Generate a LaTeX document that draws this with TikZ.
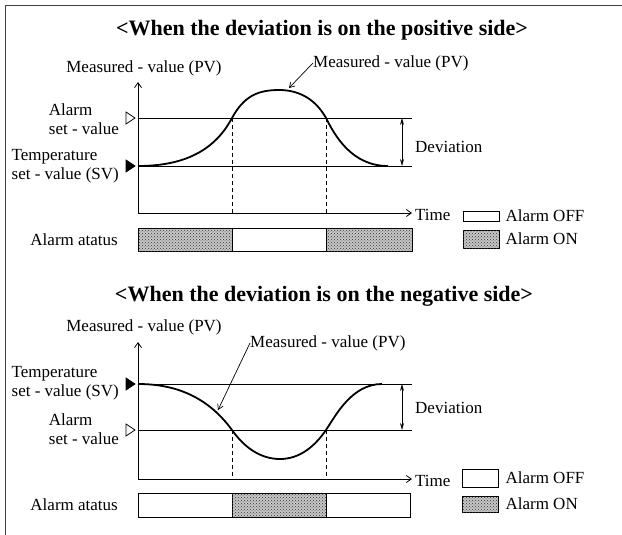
\documentclass[tikz,border=0pt]{standalone}
\usepackage{fontspec}
\setmainfont{Liberation Serif}
\usetikzlibrary{positioning,arrows.meta,patterns}

\begin{document}
\begin{tikzpicture}[x=1pt, y=-1pt,
  every node/.style={font=\fontsize{17}{19}\selectfont, inner sep=0pt},
  ttl/.style={font=\fontsize{22}{24}\selectfont\bfseries},
  lbl/.style={align=left, anchor=east},
  level/.style={line width=0.7pt},
  pvline/.style={line width=1.8pt},
  guide/.style={line width=0.6pt, dash pattern=on 4pt off 3pt},
  axis/.style={line width=0.8pt, -{Straight Barb[length=5pt,width=7pt]}},
  leader/.style={line width=0.7pt, -{Straight Barb[length=5pt,width=6pt]}},
  dev/.style={line width=0.8pt, {Stealth[length=7pt,width=4pt]}-{Stealth[length=7pt,width=4pt]}},
  onbox/.style={draw, line width=0.7pt, fill=black!22, postaction={pattern=crosshatch dots, pattern color=black!80}},
  offbox/.style={draw, line width=0.7pt, fill=white},
  openmark/.style={line width=0.7pt, fill=white},
  fullmark/.style={line width=0.7pt, fill=black}]
  \useasboundingbox (0,0) rectangle (622,535);
  % frame
  \coordinate (fr1) at (5,535); \coordinate (fr2) at (5,5); \coordinate (fr3) at (622,5);
  \draw[line width=0.8pt, black!75] (fr1) -- (fr2) -- (fr3);

  % ---- positive side ----
  \node[ttl] (t1) at (322,30) {<When the deviation is on the positive side>};
  \coordinate (o1) at (138,213); \coordinate (ytop1) at (138,82); \coordinate (xend1) at (412,213);
  \coordinate (al1a) at (138,118); \coordinate (al1b) at (412,118);
  \coordinate (sv1a) at (138,166); \coordinate (sv1b) at (412,166);
  \coordinate (cr1a) at (232,118); \coordinate (cr1b) at (326,118);
  \coordinate (pk1) at (279,90); \coordinate (end1) at (388,166);
  \coordinate (tip1) at (289,88);
  \coordinate (dv1a) at (402,118); \coordinate (dv1b) at (402,166);
  \draw[axis] (o1) -- (ytop1);
  \draw[axis] (o1) -- (xend1);
  \draw[level] (al1a) -- (al1b);
  \draw[level] (sv1a) -- (sv1b);
  \draw[guide] (cr1a) -- (cr1a |- o1);
  \draw[guide] (cr1b) -- (cr1b |- o1);
  \draw[pvline] (sv1a) .. controls (185,166) and (215,150) .. (cr1a)
    .. controls (244,96) and (258,90) .. (pk1)
    .. controls (300,90) and (316,100) .. (cr1b)
    .. controls (335,136) and (352,166) .. (end1);
  \draw[dev] (dv1a) -- (dv1b);
  \draw[openmark] (126,112) -- (135,118) -- (126,124) -- cycle;
  \draw[fullmark] (126,160) -- (135,166) -- (126,172) -- cycle;
  \node (pvax1) at (144,68) {Measured - value (PV)};
  \node[anchor=west] (pvtop) at (313,63) {Measured - value (PV)};
  \draw[leader] (pvtop.west) -- (tip1);
  \node[lbl] (alarm1) at (119,119) {Alarm\\set - value};
  \node[lbl] (temp1) at (119,166) {Temperature\\set - value (SV)};
  \node[anchor=west] (dv1) at (415,147) {Deviation};
  \node[anchor=west] (time1) at (415,215) {Time};
  \node[offbox, minimum width=36pt, minimum height=10pt] (off1) at (481,216) {};
  \node[onbox, minimum width=36pt, minimum height=18pt] (on1) at (481,239) {};
  \node[right=6pt of off1] (offtxt1) {Alarm OFF};
  \node[right=6pt of on1] (ontxt1) {Alarm ON};
  \node[anchor=east] (st1) at (118,240) {Alarm atatus};
  \draw[onbox] (138,228) rectangle (232,251);
  \draw[offbox] (232,228) rectangle (326,251);
  \draw[onbox] (326,228) rectangle (412,251);

  % ---- negative side ----
  \node[ttl] (t2) at (324,296) {<When the deviation is on the negative side>};
  \coordinate (o2) at (138,479); \coordinate (ytop2) at (138,342); \coordinate (xend2) at (412,479);
  \coordinate (sv2a) at (138,384); \coordinate (sv2b) at (412,384);
  \coordinate (al2a) at (138,430); \coordinate (al2b) at (412,430);
  \coordinate (cr2a) at (232,430); \coordinate (cr2b) at (326,430);
  \coordinate (lo2) at (280,459); \coordinate (end2) at (382,384);
  \coordinate (tip2) at (218,410);
  \coordinate (dv2a) at (402,384); \coordinate (dv2b) at (402,430);
  \draw[axis] (o2) -- (ytop2);
  \draw[axis] (o2) -- (xend2);
  \draw[level] (sv2a) -- (sv2b);
  \draw[level] (al2a) -- (al2b);
  \draw[guide] (cr2a) -- (cr2a |- o2);
  \draw[guide] (cr2b) -- (cr2b |- o2);
  \draw[pvline] (sv2a) .. controls (180,384) and (210,400) .. (cr2a)
    .. controls (244,447) and (260,459) .. (lo2)
    .. controls (300,459) and (315,446) .. (cr2b)
    .. controls (336,415) and (352,384) .. (end2);
  \draw[dev] (dv2a) -- (dv2b);
  \draw[fullmark] (126,378) -- (135,384) -- (126,390) -- cycle;
  \draw[openmark] (126,424) -- (135,430) -- (126,436) -- cycle;
  \node (pvax2) at (144,327) {Measured - value (PV)};
  \node[anchor=west] (pvbot) at (250,343) {Measured - value (PV)};
  \draw[leader] (pvbot.west) -- (tip2);
  \node[lbl] (temp2) at (119,383) {Temperature\\set - value (SV)};
  \node[lbl] (alarm2) at (119,429) {Alarm\\set - value};
  \node[anchor=west] (dv2) at (415,408) {Deviation};
  \node[anchor=west] (time2) at (415,481) {Time};
  \node[offbox, minimum width=36pt, minimum height=18pt] (off2) at (480,478) {};
  \node[onbox, minimum width=36pt, minimum height=16pt] (on2) at (480,504) {};
  \node[right=7pt of off2] (offtxt2) {Alarm OFF};
  \node[right=7pt of on2] (ontxt2) {Alarm ON};
  \node[anchor=east] (st2) at (118,505) {Alarm atatus};
  \draw[offbox] (138,493) rectangle (232,517);
  \draw[onbox] (232,493) rectangle (326,517);
  \draw[offbox] (326,493) rectangle (410,517);
\end{tikzpicture}
\end{document}
